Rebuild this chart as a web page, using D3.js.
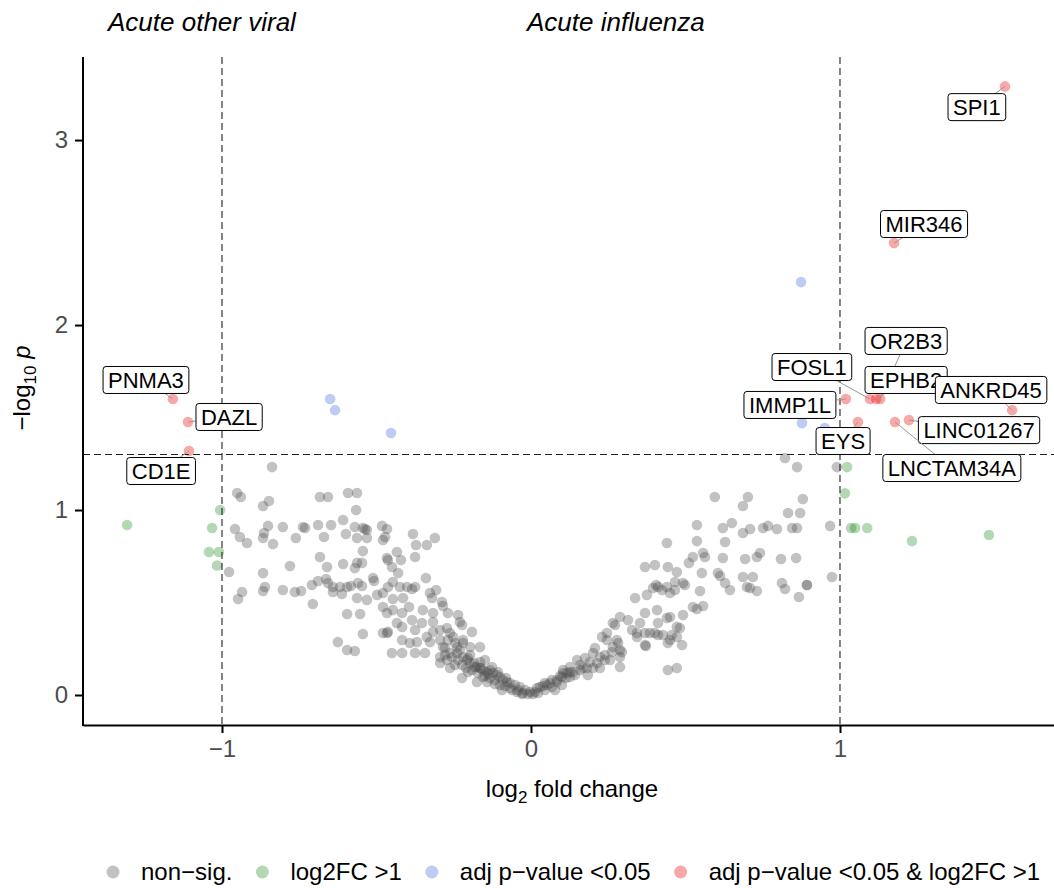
<!DOCTYPE html>
<html><head><meta charset="utf-8">
<script src="https://cdn.jsdelivr.net/npm/d3@7"></script>
<style>
body{margin:0;background:#fff}
svg{display:block}
text{font-family:"Liberation Sans",Arial,Helvetica,sans-serif}
</style>
</head><body><svg id="chart" width="1054" height="888"></svg>
<script>
// ---------------- DATA ----------------
const greyFC = [
-0.838,-0.951,-0.939,-0.867,-0.848,-0.683,-0.657,-0.592,-0.563,-0.566,
-0.608,-0.958,-0.942,-0.919,-0.851,-0.864,-0.867,-0.835,-0.803,-0.761,
-0.738,-0.731,-0.689,-0.670,-0.647,-0.599,-0.570,-0.544,-0.531,-0.563,
-0.531,-0.482,-0.466,-0.479,-0.544,-0.683,-0.660,-0.608,-0.563,-0.547,
-0.570,-0.466,-0.450,-0.780,-0.977,-0.867,-0.935,-0.948,-0.867,-0.861,
-0.803,-0.764,-0.744,-0.709,-0.689,-0.663,-0.657,-0.641,-0.641,-0.618,
-0.612,-0.595,-0.583,-0.560,-0.547,-0.511,-0.508,-0.498,-0.479,-0.563,
-0.531,-0.463,-0.447,-0.706,-0.595,-0.553,-0.479,-0.466,-0.447,-0.544,
-0.479,-0.466,-0.463,-0.625,-0.595,-0.570,-0.450,-0.463,-0.434,-0.537,
-0.472,-0.382,-0.372,-0.337,-0.311,-0.421,-0.375,-0.430,-0.340,-0.424,
-0.401,-0.385,-0.375,-0.447,-0.414,-0.395,-0.327,-0.307,-0.320,-0.417,
-0.350,-0.317,-0.288,-0.285,-0.269,-0.236,-0.434,-0.417,-0.385,-0.375,
-0.353,-0.317,-0.317,-0.294,-0.272,-0.262,-0.252,-0.337,-0.327,-0.230,
-0.223,-0.417,-0.375,-0.343,-0.417,-0.392,-0.369,-0.294,-0.285,-0.262,
-0.239,-0.220,-0.197,-0.165,-0.191,-0.294,-0.272,-0.262,-0.294,-0.239,
-0.220,-0.207,-0.197,-0.175,-0.165,-0.155,-0.142,-0.133,-0.123,-0.110,
-0.100,-0.091,-0.078,-0.068,-0.052,-0.036,-0.019,-0.003,0.013,-0.223,
-0.204,-0.175,-0.142,-0.094,-0.197,-0.165,-0.181,0.149,0.104,0.126,
0.084,0.052,0.029,-0.117,-0.068,-0.042,-0.149,-0.246,-0.278,-0.026,
-0.010,0.006,0.023,0.045,0.068,0.019,0.039,0.061,0.084,0.100,
0.117,0.136,0.159,0.181,0.201,0.223,0.104,0.126,0.184,0.168,
0.201,0.207,0.223,0.239,0.256,0.230,0.246,0.265,0.278,0.288,
0.288,0.288,0.265,0.288,0.314,0.327,0.343,0.353,0.369,0.369,
0.385,0.408,0.411,0.411,0.440,0.450,0.450,0.472,0.472,0.337,
0.375,0.395,0.411,0.424,0.440,0.450,0.466,0.369,0.401,0.443,
0.472,0.443,0.472,0.595,0.702,0.686,0.880,0.832,0.871,0.537,
0.621,0.650,0.686,0.709,0.751,0.767,0.796,0.845,0.861,0.968,
0.440,0.537,0.628,0.557,0.563,0.524,0.511,0.621,0.693,0.731,
0.741,0.809,0.858,0.553,0.605,0.612,0.686,0.718,0.974,0.405,
0.466,0.498,0.492,0.628,0.644,0.699,0.709,0.731,0.812,0.822,
0.867,0.893,0.893,0.547,0.524,0.537,0.557,0.492,0.343,0.369,
0.401,0.427,0.456,0.482,0.443,0.489,0.372,0.272,0.246,0.282,
0.294,0.822,0.861,0.990,
-0.278,-0.256,-0.236,-0.223,-0.210,-0.191,-0.172,-0.155,-0.133,-0.117,
-0.100,-0.084,-0.061,-0.045,-0.029,-0.230,-0.204,-0.184,-0.162,-0.139,
-0.126,-0.107,-0.081,-0.149,-0.246,-0.269,-0.220,
0.045,0.068,0.094,0.113,0.142,0.159,0.191,0.214,0.239,0.262,
0.078,0.100,0.126,0.175
];
const greyLogP = [
1.232,1.092,1.070,1.022,1.049,1.070,1.070,1.092,1.092,1.000,
0.946,0.897,0.854,0.822,0.914,0.876,0.849,0.816,0.908,0.849,
0.908,0.903,0.919,0.854,0.919,0.870,0.908,0.903,0.892,0.849,
0.849,0.914,0.897,0.838,0.778,0.746,0.692,0.708,0.714,0.714,
0.686,0.741,0.692,0.697,0.665,0.659,0.557,0.519,0.562,0.584,
0.568,0.557,0.562,0.595,0.616,0.627,0.605,0.584,0.557,0.584,
0.546,0.584,0.589,0.605,0.589,0.632,0.616,0.541,0.551,0.524,
0.514,0.584,0.611,0.492,0.438,0.438,0.476,0.443,0.459,0.330,
0.335,0.335,0.341,0.286,0.243,0.238,0.227,0.730,0.773,0.897,
0.854,0.870,0.811,0.811,0.849,0.730,0.746,0.659,0.632,0.584,
0.584,0.573,0.584,0.519,0.524,0.476,0.551,0.568,0.524,0.443,
0.459,0.443,0.503,0.481,0.443,0.432,0.389,0.368,0.405,0.351,
0.389,0.395,0.341,0.351,0.362,0.335,0.314,0.314,0.286,0.395,
0.378,0.227,0.227,0.227,0.297,0.281,0.286,0.297,0.259,0.227,
0.259,0.281,0.259,0.259,0.341,0.205,0.189,0.146,0.173,0.227,
0.205,0.189,0.173,0.151,0.146,0.135,0.124,0.135,0.119,0.108,
0.097,0.081,0.070,0.065,0.054,0.043,0.027,0.016,0.016,0.092,
0.124,0.070,0.070,0.027,0.216,0.178,0.151,0.189,0.119,0.097,
0.070,0.054,0.043,0.081,0.038,0.027,0.103,0.162,0.216,0.011,
0.005,0.005,0.011,0.027,0.043,0.038,0.049,0.065,0.081,0.097,
0.119,0.124,0.135,0.146,0.146,0.146,0.135,0.151,0.108,0.146,
0.227,0.254,0.205,0.189,0.189,0.314,0.297,0.259,0.297,0.243,
0.205,0.151,0.389,0.422,0.405,0.351,0.314,0.389,0.443,0.270,
0.335,0.459,0.389,0.324,0.416,0.297,0.422,0.368,0.314,0.524,
0.541,0.578,0.584,0.568,0.584,0.551,0.568,0.692,0.703,0.692,
0.665,0.135,0.146,1.070,1.070,1.022,1.059,0.984,0.984,0.919,
0.903,0.930,0.876,0.897,0.903,0.914,0.897,0.903,0.903,0.914,
0.822,0.832,0.827,0.768,0.746,0.746,0.714,0.741,0.735,0.746,
0.768,0.735,0.741,0.659,0.659,0.643,0.638,0.638,0.638,0.595,
0.611,0.595,0.605,0.605,0.568,0.584,0.578,0.562,0.605,0.573,
0.530,0.595,0.595,0.562,0.476,0.465,0.481,0.432,0.335,0.335,
0.335,0.324,0.324,0.362,0.281,0.270,0.265,0.378,0.335,0.281,
0.232,1.281,1.232,1.232,
0.254,0.205,0.189,0.162,0.146,0.135,0.119,0.097,0.092,0.059,
0.054,0.049,0.027,0.016,0.005,0.243,0.200,0.173,0.146,0.114,
0.151,0.124,0.092,0.189,0.281,0.297,0.297,
0.065,0.081,0.103,0.092,0.108,0.162,0.178,0.173,0.216,0.232,
0.027,0.054,0.124,0.200
];
const greenFC   = [-1.307,-1.006,-1.032,-1.042,-1.010,-1.016,1.023,1.016,1.036,1.049,1.088,1.233,1.482];
const greenLogP = [ 0.919, 1.000, 0.903, 0.773, 0.773, 0.700,1.232,1.090,0.903,0.903,0.903,0.832,0.865];
const blueFC    = [0.874,-0.650,-0.634,-0.453,0.877,0.951];
const blueLogP  = [2.232, 1.600, 1.540, 1.416,1.470,1.443];
// significant genes (adj p < 0.05 & |log2FC| > 1), all labelled
const geneNames = ["SPI1","MIR346","PNMA3","DAZL","CD1E","OR2B3","FOSL1","EPHB2","ANKRD45","IMMP1L","LINC01267","EYS","LNCTAM34A"];
const geneFC    = [1.534,1.175,-1.159,-1.110,-1.107,1.130,1.097,1.117,1.557,1.019,1.223,1.058,1.178];
const geneLogP  = [3.290,2.443, 1.600, 1.476, 1.319,1.600,1.600,1.600,1.540,1.600,1.486,1.476,1.476];
const labelFC   = [1.443,1.272,-1.246,-0.977,-1.197,1.214,0.909,1.214,1.489,0.838,1.450,1.010,1.362];
const labelLogP = [3.178,2.546, 1.703, 1.503, 1.211,1.914,1.773,1.703,1.649,1.568,1.432,1.373,1.227];
const xTicks = [-1, 0, 1];
const yTicks = [0, 1, 2, 3];
const fcCutoffs = [-1, 1];
const pCutoff = 1.3;
const legendLabels = ["non\u2212sig.", "log2FC >1", "adj p\u2212value <0.05", "adj p\u2212value <0.05 & log2FC >1"];
const groupColors = ["#4d4d4d", "#228b22", "#4169e1", "#ee0000"];
const sideTitles = ["Acute other viral", "Acute influenza"];

// ---------------- LAYOUT ----------------
const svg = d3.select("#chart");
const L = 83, R = 1054, T = 57, B = 725;
const x = d3.scaleLinear().domain([-1.4498, 1.6926]).range([L, R]);
const y = d3.scaleLinear().domain([-0.1622, 3.449]).range([B, T]);
const alpha = 0.34, rad = 5.3;
const fmt = d3.format("d");

// points
const groups = [
  d3.zip(greyFC, greyLogP),
  d3.zip(greenFC, greenLogP),
  d3.zip(blueFC, blueLogP),
  d3.zip(geneFC, geneLogP)
];
const gPts = svg.append("g");
groups.forEach((pts, gi) => {
  gPts.append("g").selectAll("circle").data(pts).join("circle")
    .attr("cx", d => x(d[0])).attr("cy", d => y(d[1])).attr("r", rad)
    .attr("fill", groupColors[gi]).attr("fill-opacity", alpha);
});

// cutoff lines
const gCut = svg.append("g").attr("stroke", "#222").attr("stroke-width", 1.1).attr("stroke-dasharray", "7,4");
fcCutoffs.forEach(v => gCut.append("line").attr("x1", x(v)).attr("x2", x(v)).attr("y1", T).attr("y2", B));
gCut.append("line").attr("x1", L).attr("x2", R).attr("y1", y(pCutoff)).attr("y2", y(pCutoff));

// axes
const xAxis = svg.append("g").attr("transform", `translate(0,${B})`)
  .call(d3.axisBottom(x).tickValues(xTicks).tickFormat(fmt).tickSize(8).tickPadding(7).tickSizeOuter(0));
const yAxis = svg.append("g").attr("transform", `translate(${L},0)`)
  .call(d3.axisLeft(y).tickValues(yTicks).tickFormat(fmt).tickSize(8).tickPadding(7).tickSizeOuter(0));
[xAxis, yAxis].forEach(a => {
  a.select(".domain").attr("stroke", "#000").attr("stroke-width", 2);
  a.selectAll(".tick line").attr("stroke", "#000").attr("stroke-width", 2);
  a.selectAll(".tick text").attr("font-size", 24).attr("fill", "#4d4d4d")
    .attr("font-family", '"Liberation Sans",Arial,sans-serif');
});
yAxis.select(".domain").attr("d", `M0,${T}V${B + 1}`);

// labels with segments
const gLab = svg.append("g");
geneNames.forEach((name, i) => {
  const px = x(geneFC[i]), py = y(geneLogP[i]);
  const cx = x(labelFC[i]), cy = y(labelLogP[i]);
  const g = gLab.append("g");
  const seg = g.append("line");
  const rect = g.append("rect");
  const t = g.append("text").attr("x", cx).attr("y", cy).attr("dy", "0.36em")
    .attr("text-anchor", "middle").attr("font-size", 22).attr("fill", "#000").text(name);
  const w = t.node().getComputedTextLength() + 10, h = 27;
  rect.attr("x", cx - w / 2).attr("y", cy - h / 2).attr("width", w).attr("height", h)
    .attr("rx", 3).attr("fill", "#fff").attr("stroke", "#000").attr("stroke-width", 1);
  const dx = px - cx, dy = py - cy;
  const inside = Math.abs(dx) <= w / 2 && Math.abs(dy) <= h / 2;
  if (!inside) {
    const s = Math.min(Math.abs((w / 2) / (dx || 1e-9)), Math.abs((h / 2) / (dy || 1e-9)));
    const ex = cx + dx * s, ey = cy + dy * s;
    const len = Math.hypot(px - ex, py - ey);
    if (len > 4) {
      seg.attr("x1", ex).attr("y1", ey).attr("x2", px).attr("y2", py)
        .attr("stroke", "#9a9a9a").attr("stroke-width", 1);
    }
  }
});

// axis titles
svg.append("text").attr("x", 572).attr("y", 797).attr("text-anchor", "middle").attr("font-size", 24)
  .call(tx => {
    tx.append("tspan").text("log");
    tx.append("tspan").attr("font-size", 17).attr("dy", 6).text("2");
    tx.append("tspan").attr("dy", -6).text(" fold change");
  });
svg.append("text").attr("transform", "translate(30,388) rotate(-90)").attr("text-anchor", "middle").attr("font-size", 24)
  .call(tx => {
    tx.append("tspan").text("\u2212log");
    tx.append("tspan").attr("font-size", 17).attr("dy", 6).text("10");
    tx.append("tspan").attr("dy", -6).text(" ");
    tx.append("tspan").attr("font-style", "italic").text("p");
  });

// side titles
svg.append("text").attr("x", 108).attr("y", 31).attr("font-size", 26).attr("font-style", "italic").text(sideTitles[0]);
svg.append("text").attr("x", 527).attr("y", 31).attr("font-size", 26).attr("font-style", "italic").text(sideTitles[1]);

// legend
const gLeg = svg.append("g");
let lx = 113; const ly = 872;
legendLabels.forEach((lab, i) => {
  gLeg.append("circle").attr("cx", lx).attr("cy", ly).attr("r", 6.5)
    .attr("fill", groupColors[i]).attr("fill-opacity", alpha);
  const t = gLeg.append("text").attr("x", lx + 28).attr("y", ly).attr("dy", "0.35em")
    .attr("font-size", 24).attr("fill", "#000").text(lab);
  lx += 28 + t.node().getComputedTextLength() + 30;
});
</script>
</body></html>
